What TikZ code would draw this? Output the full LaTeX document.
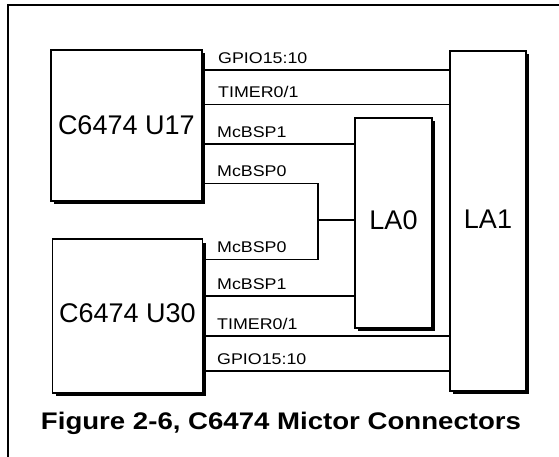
\documentclass[tikz,border=0pt]{standalone}
\usepackage{fontspec}
\setmainfont{Liberation Sans}
\newfontfamily\lblfont[FakeStretch=1.15]{Liberation Sans}
\newfontfamily\capfont[FakeStretch=1.15]{Liberation Sans}
\usetikzlibrary{positioning,shadows,calc}

\begin{document}
\begin{tikzpicture}[
  x=1pt, y=-1pt,
  %--- block styles ---
  chip/.style={draw, line width=1.8pt, fill=white, outer sep=0pt, inner sep=0pt,
    font=\fontsize{27}{30}\selectfont,
    drop shadow={shadow xshift=3.2pt, shadow yshift=-3.2pt, fill=black, opacity=1}},
  mictor/.style={chip, minimum width=77pt},
  %--- wires and their labels ---
  wire/.style={line width=1.3pt},
  sig/.style={anchor=base west, inner sep=0pt, font=\lblfont\fontsize{15.5}{17}\selectfont},
  %--- frame ---
  frame/.style={line width=1.8pt}
]
\useasboundingbox (0,0) rectangle (559,457);

%% ── FRAME ───────────────────────────────────────────────────────────────
\coordinate (fbl) at (8.3,457);
\coordinate (ftl) at (8.3,5);
\coordinate (ftr) at (559,5);
\draw[frame] (fbl) -- (ftl) -- (ftr);

%% ── DEVICES ─────────────────────────────────────────────────────────────
\node[chip, minimum width=150.7pt, minimum height=151pt] (u17) at (126.3,125.5) {C6474 U17};
\node[chip, minimum width=150pt, minimum height=153.4pt] (u30) at (127.5,316) {\raisebox{6pt}{C6474 U30}};

%% ── MICTOR CONNECTORS ───────────────────────────────────────────────────
\node[mictor, minimum height=210pt] (la0) at (393.5,223) {\raisebox{5pt}{LA0}};
\node[mictor, minimum width=76.5pt, minimum height=340pt] (la1) at (488,221) {\raisebox{3pt}{LA1}};

%% ── WIRES: U17 ──────────────────────────────────────────────────────────
\draw[wire] (u17.east |- 0,70) -- (la1.west |- 0,70);
\draw[wire] (u17.east |- 0,104.5) -- (la1.west |- 0,104.5);
\draw[wire] (u17.east |- 0,144) -- (la0.west |- 0,144);
\coordinate (jog) at (318,220);
\draw[wire] (u17.east |- 0,183.5) -| (jog) |- (u30.east |- 0,259.3);
\draw[wire] (jog) -- (la0.west |- jog);

%% ── WIRES: U30 ──────────────────────────────────────────────────────────
\draw[wire] (u30.east |- 0,296) -- (la0.west |- 0,296);
\draw[wire] (u30.east |- 0,336) -- (la1.west |- 0,336);
\draw[wire] (u30.east |- 0,371) -- (la1.west |- 0,371);

%% ── SIGNAL LABELS ───────────────────────────────────────────────────────
\node[sig] (l1) at (218,63.5) {GPIO15:10};
\node[sig] (l2) at (218,97.5) {TIMER0/1};
\node[sig] (l3) at (217,137.5) {McBSP1};
\node[sig] (l4) at (217,177) {McBSP0};
\node[sig] (l5) at (217,252.8) {McBSP0};
\node[sig] (l6) at (217,289.5) {McBSP1};
\node[sig] (l7) at (217,329.5) {TIMER0/1};
\node[sig] (l8) at (217,364.5) {GPIO15:10};

%% ── CAPTION ─────────────────────────────────────────────────────────────
\node[anchor=base, inner sep=0pt, font=\capfont\bfseries\fontsize{24}{26}\selectfont] (cap) at (281,429)
  {Figure 2-6, C6474 Mictor Connectors};
\end{tikzpicture}
\end{document}
